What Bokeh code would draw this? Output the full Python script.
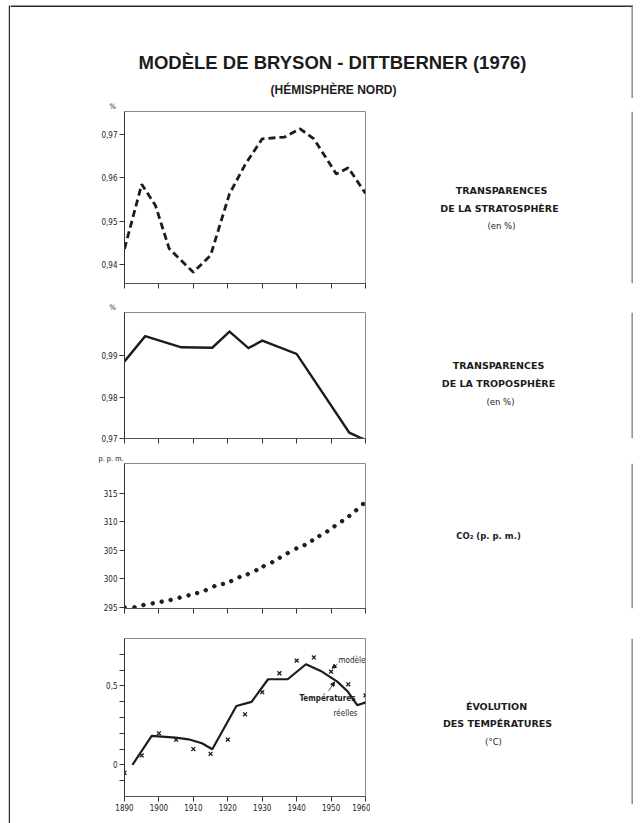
from bokeh.plotting import figure
from bokeh.layouts import column, row
from bokeh.models import (FixedTicker, CustomJSTickFormatter, Label, Arrow,
                          NormalHead, Range1d, BoxAnnotation)
from bokeh.embed import file_html
from bokeh.resources import INLINE

# ---------------- data ----------------
decade_ticks = [1890, 1900, 1910, 1920, 1930, 1940, 1950, 1960]

strat_years = [1890, 1895, 1899, 1903, 1910, 1915, 1920.5, 1925, 1930,
               1936.5, 1941, 1945, 1951.5, 1955, 1960]
strat_values = [0.9436, 0.9585, 0.9536, 0.9436, 0.9382, 0.9421, 0.9563, 0.9630,
                0.9690, 0.9694, 0.9713, 0.9690, 0.9609, 0.9623, 0.9564]
strat_ticks = [0.94, 0.95, 0.96, 0.97]

tropo_years = [1890, 1896, 1906.5, 1915.5, 1920.5, 1926, 1930, 1940, 1955.3,
               1959, 1960]
tropo_values = [0.9886, 0.9947, 0.9920, 0.9919, 0.9958, 0.9918, 0.9936, 0.9904,
                0.9714, 0.9700, 0.9697]
tropo_ticks = [0.97, 0.98, 0.99]

co2_years = [1890.0, 1892.9, 1895.5, 1898.2, 1900.8, 1903.4, 1906.0, 1908.6,
             1911.1, 1913.6, 1916.1, 1918.6, 1921.0, 1923.4, 1925.8, 1928.3,
             1930.4, 1932.9, 1935.1, 1937.4, 1939.9, 1942.3, 1944.5, 1946.6,
             1948.9, 1951.0, 1953.2, 1955.3, 1957.3, 1959.3]
co2_values = [295.0, 295.0, 295.4, 295.7, 296.0, 296.3, 296.7, 297.1,
              297.5, 298.0, 298.7, 299.1, 299.6, 300.3, 300.8, 301.5,
              302.2, 302.9, 303.7, 304.5, 305.3, 305.9, 306.7, 307.5,
              308.3, 309.2, 310.1, 311.0, 312.0, 313.1]
co2_ticks = [295, 300, 305, 310, 315]

model_years = [1892.3, 1897.9, 1904.8, 1908.6, 1912.5, 1915.5, 1922.5, 1926.9,
               1931.7, 1937.4, 1942.7, 1947.0, 1951.8, 1954.7, 1957.6, 1961.9]
model_values = [0.0, 0.184, 0.173, 0.162, 0.137, 0.099, 0.373, 0.399,
                0.542, 0.542, 0.637, 0.595, 0.527, 0.468, 0.378, 0.409]

obs_years = [1890, 1895, 1900, 1905, 1910, 1915, 1920, 1925, 1930, 1935,
             1940, 1945, 1950, 1955, 1960]
obs_values = [-0.05, 0.06, 0.20, 0.16, 0.10, 0.07, 0.16, 0.32, 0.46, 0.58,
              0.66, 0.68, 0.59, 0.51, 0.44]
temp_ticks = [-0.1, 0.0, 0.1, 0.2, 0.3, 0.4, 0.5, 0.6, 0.7]
temp_labelled = [0.0, 0.5]

# ---------------- layout constants (page px; Bokeh's page has no margin) ----
PAGE_W, PAGE_H = 640, 823
STRIP_W = 10                 # left strip holding the thick page-frame line
LINE_L = (8.3, 10.5)         # left frame line extent
LINE_T = (5.0, 6.6)          # top frame line extent
LINE_R = (631.0, 632.3)      # right frame line extent
INNER_W = PAGE_W - STRIP_W
FRAME_L = 124                # panel frame left
FRAME_W = 241
PLOT_W = FRAME_L - STRIP_W + FRAME_W + 5
TEXT_L = STRIP_W + PLOT_W
TEXT_W = PAGE_W - TEXT_L
TITLE_H = 98
X0, X1 = 1890, 1960

NARROW = "'Liberation Sans Narrow', 'DejaVu Sans Condensed', 'Arial Narrow', sans-serif"
SANS = "'Liberation Sans', Arial, sans-serif"
WIDE = "'DejaVu Sans', Verdana, sans-serif"
INK = "#1c1c1c"
EDGE = "#2b2b2b"
EDGE_RIGHT = "#7a7a7a"


def bare(w, h, left_p, top_p):
    f = figure(width=w, height=h, x_range=Range1d(0, w), y_range=Range1d(h, 0),
               min_border=0, x_axis_type=None, y_axis_type=None, title=None,
               toolbar_location=None, tools="", output_backend="svg",
               background_fill_color="white", border_fill_color="white",
               outline_line_color=None)
    f.grid.visible = False
    f.tags = [dict(left=left_p, top=top_p, w=w, h=h)]
    return f


def edge_box(f, left=None, right=None, top=None, bottom=None, color=EDGE):
    """decorative page-frame line; unspecified sides span the whole figure"""
    g = f.tags[0]
    l = 0 if left is None else left - g["left"]
    r = g["w"] if right is None else right - g["left"]
    t = 0 if top is None else top - g["top"]
    b = g["h"] if bottom is None else bottom - g["top"]
    f.add_layout(BoxAnnotation(left=l, right=r, top=t, bottom=b,
                               fill_color=color, fill_alpha=1, line_color=None))


def text_fig(h, top_p):
    f = bare(TEXT_W, h, TEXT_L, top_p)
    edge_box(f, left=LINE_R[0], right=LINE_R[1], color=EDGE_RIGHT)
    return f


def put(f, rx, ry, text, size, font=WIDE, style="bold", align="center",
        color=INK):
    """place text at page pixel (rx, ry) in a bare text figure"""
    g = f.tags[0]
    f.add_layout(Label(x=rx - g["left"], y=ry - g["top"], text=text,
                       text_font=font, text_font_size=f"{size}px",
                       text_font_style=style, text_align=align,
                       text_baseline="middle", text_color=color))


def make_panel(ylo, yhi, top, fh, bottom, fig_top, unit, unit_offset,
               unit_standoff, unit_font, unit_size):
    p = figure(frame_width=FRAME_W, frame_height=fh,
               x_range=Range1d(X0, X1), y_range=Range1d(ylo, yhi),
               min_border_left=FRAME_L - STRIP_W,
               min_border_right=PLOT_W - (FRAME_L - STRIP_W) - FRAME_W,
               min_border_top=top, min_border_bottom=bottom,
               toolbar_location=None, tools="", output_backend="svg",
               background_fill_color="white", border_fill_color="white",
               title=unit)
    p.title.align = "left"
    p.title.offset = unit_offset
    p.title.standoff = unit_standoff
    p.title.text_font = unit_font
    p.title.text_font_size = f"{unit_size}px"
    p.title.text_font_style = "normal"
    p.title.text_color = INK
    p.grid.visible = False
    p.outline_line_color = "#8a8a8a"
    p.outline_line_width = 1
    for ax in (p.xaxis[0], p.yaxis[0]):
        ax.major_tick_in = 0
        ax.major_tick_out = 5
        ax.minor_tick_in = 0
        ax.minor_tick_out = 0
        ax.major_tick_line_color = "#333333"
        ax.major_label_text_font = NARROW
        ax.major_label_text_font_size = "8px"
        ax.major_label_text_color = "#222222"
    p.yaxis.axis_line_color = "#333333"
    p.xaxis.axis_line_color = "#555555"
    p.yaxis.major_label_standoff = 2
    p.xaxis.ticker = FixedTicker(ticks=decade_ticks)
    p.tags = [dict(left=FRAME_L, top=fig_top + top, w=FRAME_W, h=fh,
                   y0=ylo, y1=yhi)]
    return p


def put_in_plot(p, rx, ry, text, size, font=NARROW, style="normal"):
    g = p.tags[0]
    x = X0 + (rx - g["left"]) / g["w"] * (X1 - X0)
    y = g["y1"] - (ry - g["top"]) / g["h"] * (g["y1"] - g["y0"])
    p.add_layout(Label(x=x, y=y, text=text, text_font=font,
                       text_font_size=f"{size}px", text_font_style=style,
                       text_align="left", text_baseline="middle",
                       text_color=INK))


def hide_x_labels(p):
    p.xaxis.major_label_text_font_size = "0px"
    p.xaxis.major_label_standoff = 0
    p.xaxis.formatter = CustomJSTickFormatter(code="return '';")


comma2 = CustomJSTickFormatter(code="return tick.toFixed(2).replace('.', ',');")

# ---------------- title ----------------
title_fig = bare(INNER_W, TITLE_H, STRIP_W, 0)
edge_box(title_fig, right=LINE_R[1], top=LINE_T[0], bottom=LINE_T[1])
edge_box(title_fig, left=LINE_R[0], right=LINE_R[1], top=LINE_T[0],
         color=EDGE_RIGHT)
put(title_fig, 332, 62, "MODÈLE DE BRYSON - DITTBERNER (1976)", 18.5, font=SANS)
put(title_fig, 333, 89, "(HÉMISPHÈRE NORD)", 12, font=SANS)

# row geometry: (top border, frame height, bottom border)
rows_geom = [(13, 172, 15), (14, 126, 10), (15, 145, 17), (13, 158, 19)]
tops = []
y = TITLE_H
for t, fh, b in rows_geom:
    tops.append(y)
    y += t + fh + b

# ---------------- panel 1 : stratosphere ----------------
t, fh, b = rows_geom[0]
p1 = make_panel(0.9356, 0.9753, t, fh, b, tops[0], "%", -15, 1, NARROW, 7.5)
hide_x_labels(p1)
p1.yaxis.ticker = FixedTicker(ticks=strat_ticks)
p1.yaxis.formatter = comma2
p1.line(strat_years, strat_values, line_color=INK, line_width=2.8,
        line_dash="7 4")
r1 = text_fig(t + fh + b, tops[0])
put(r1, 501, 190, "TRANSPARENCES", 9.5)
put(r1, 499, 211, "DE LA STRATOSPHÈRE", 9.5)
put(r1, 501, 231, "(en %)", 8.5, style="normal")

# ---------------- panel 2 : troposphere ----------------
t, fh, b = rows_geom[1]
p2 = make_panel(0.97, 1.0004, t, fh, b, tops[1], "%", -15, 1, NARROW, 7.5)
hide_x_labels(p2)
p2.yaxis.ticker = FixedTicker(ticks=tropo_ticks)
p2.yaxis.formatter = comma2
p2.line(tropo_years, tropo_values, line_color=INK, line_width=2.4,
        line_join="miter")
r2 = text_fig(t + fh + b, tops[1])
put(r2, 498, 361, "TRANSPARENCES", 9.5)
put(r2, 498, 383, "DE LA TROPOSPHÈRE", 9.5)
put(r2, 500, 404, "(en %)", 8.5, style="normal")

# ---------------- panel 3 : CO2 ----------------
t, fh, b = rows_geom[2]
p3 = make_panel(294.8, 320.2, t, fh, b, tops[2], "p. p. m.", -26, 2, SANS, 7.5)
hide_x_labels(p3)
p3.yaxis.ticker = FixedTicker(ticks=co2_ticks)
p3.scatter(co2_years, co2_values, marker="circle", size=3.6,
           fill_color=INK, line_color=INK)
r3 = text_fig(t + fh + b, tops[2])
put(r3, 488, 537, "CO₂ (p. p. m.)", 8.5)

# ---------------- panel 4 : temperatures ----------------
t, fh, b = rows_geom[3]
p4 = make_panel(-0.2, 0.8, t, fh, b, tops[3], "", 0, 1, NARROW, 7.5)
p4.yaxis.ticker = FixedTicker(ticks=temp_ticks)
p4.yaxis.formatter = CustomJSTickFormatter(args=dict(labelled=temp_labelled), code="""
    for (const v of labelled) {
        if (Math.abs(tick - v) < 1e-9) {
            return v === 0 ? '0' : String(v).replace('.', ',');
        }
    }
    return '';
""")
p4.xaxis.major_label_standoff = 2
p4.line(model_years, model_values, line_color=INK, line_width=2.2)
p4.scatter(obs_years, obs_values, marker="x", size=5.5, line_color=INK,
           line_width=1.3)
put_in_plot(p4, 338, 660, "modèle", 8)
put_in_plot(p4, 299, 698, "Températures", 8, style="bold")
put_in_plot(p4, 333, 713, "réelles", 8)
p4.add_layout(Arrow(end=NormalHead(size=4, fill_color=INK, line_color=INK),
                    x_start=1951.8, y_start=0.637, x_end=1950.3, y_end=0.612,
                    line_color=INK, line_width=0.8))
p4.add_layout(Arrow(end=NormalHead(size=4, fill_color=INK, line_color=INK),
                    x_start=1949.3, y_start=0.468, x_end=1951.0, y_end=0.525,
                    line_color=INK, line_width=0.8))
r4 = text_fig(PAGE_H - tops[3], tops[3])
put(r4, 496, 706, "ÉVOLUTION", 9.5)
put(r4, 497, 726, "DES TEMPÉRATURES", 9.5)
put(r4, 493, 748, "(°C)", 8.5, style="normal")

# ---------------- assembly ----------------
left_strip = bare(STRIP_W, PAGE_H, 0, 0)
edge_box(left_strip, left=LINE_L[0], right=LINE_L[1], top=LINE_T[0])
inner = column(title_fig, row(p1, r1), row(p2, r2), row(p3, r3), row(p4, r4))
layout = row(left_strip, inner)

open("out.html", "w").write(file_html(layout, INLINE))
